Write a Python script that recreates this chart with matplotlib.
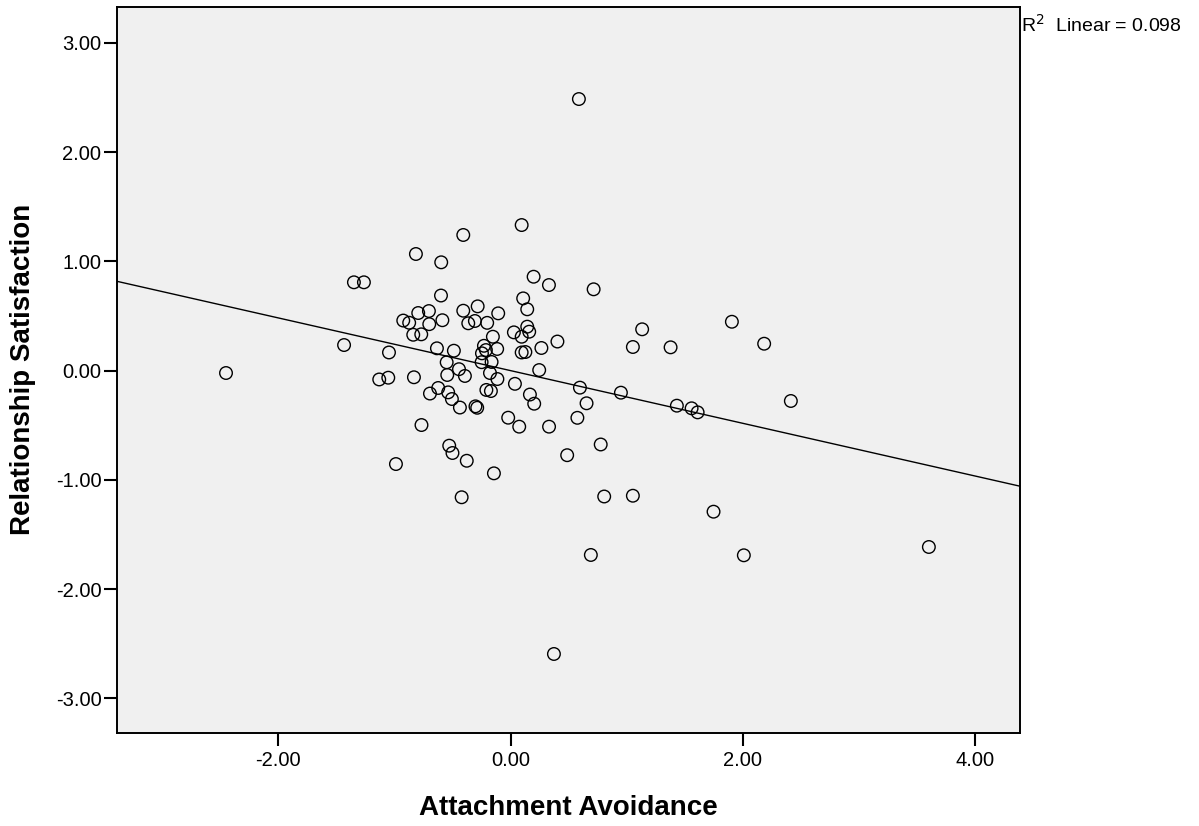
import matplotlib.pyplot as plt
import numpy as np

# points (attachment avoidance, relationship satisfaction)
avoidance = [
    -2.451, -1.434, -1.349, -1.263, -1.131, -1.053, -1.047, -0.987, -0.924, -0.873,
    -0.838, -0.832, -0.815, -0.795, -0.769, -0.767, -0.703, -0.700, -0.694, -0.634,
    -0.623, -0.597, -0.599, -0.587, -0.550, -0.545, -0.537, -0.505, -0.528, -0.500,
    -0.488, -0.444, -0.436, -0.421, -0.407, -0.407, -0.393, -0.377, -0.364, -0.307,
    -0.302, -0.287, -0.283, -0.246, -0.229, -0.249, -0.208, -0.201, -0.177, -0.169,
    -0.163, -0.152, -0.143, -0.115, -0.113, -0.106, -0.020, 0.029, 0.038, 0.075,
    0.096, 0.096, 0.096, 0.109, 0.128, 0.144, 0.144, 0.161, 0.167, 0.204,
    0.199, 0.247, 0.266, 0.331, 0.332, 0.374, 0.404, 0.488, 0.576, 0.589,
    0.598, 0.655, 0.692, 0.716, 0.777, 0.807, 0.951, 1.054, 1.054, 1.134,
    1.379, 1.433, 1.560, 1.612, 1.749, 1.907, 2.010, 2.185, 2.415, 3.604,
    -0.212,
]
satisfaction = [
    -0.022, 0.234, 0.808, 0.808, -0.081, -0.065, 0.166, -0.855, 0.458, 0.438,
    0.328, -0.061, 1.067, 0.527, 0.332, -0.498, 0.545, 0.425, -0.210, 0.204,
    -0.159, 0.991, 0.687, 0.461, 0.076, -0.040, -0.199, -0.260, -0.687, -0.754,
    0.182, 0.013, -0.338, -1.159, 1.241, 0.548, -0.049, -0.825, 0.433, 0.454,
    -0.327, -0.340, 0.588, 0.158, 0.227, 0.077, -0.177, 0.437, -0.022, -0.187,
    0.079, 0.310, -0.940, 0.198, -0.077, 0.524, -0.431, 0.350, -0.121, -0.513,
    1.332, 0.310, 0.166, 0.661, 0.170, 0.561, 0.402, 0.356, -0.219, -0.303,
    0.859, 0.005, 0.207, 0.783, -0.513, -2.593, 0.266, -0.774, -0.432, 2.485,
    -0.156, -0.299, -1.687, 0.744, -0.676, -1.152, -0.202, -1.145, 0.216, 0.378,
    0.213, -0.321, -0.345, -0.382, -1.291, 0.447, -1.690, 0.246, -0.278, -1.614,
    0.188,
]

# fitted line as drawn in the picture
fit_intercept = 0.0
fit_slope = -0.241
r2_text = "R$^2$  Linear = 0.098"

x_ticks = [-2.0, 0.0, 2.0, 4.0]
y_ticks = [-3.0, -2.0, -1.0, 0.0, 1.0, 2.0, 3.0]
x_lim = (-3.393, 4.389)
y_lim = (-3.313, 3.327)

plt.rcParams['font.family'] = ['Liberation Sans', 'DejaVu Sans']

fig = plt.figure(figsize=(11.99, 8.26), dpi=100)
ax = fig.add_axes([0.0973, 0.113, 0.7534, 0.8785])
ax.set_facecolor('#f0f0f0')

line_x = np.array(x_lim)
ax.plot(line_x, fit_intercept + fit_slope * line_x, color='black', lw=1.0, zorder=2)
ax.scatter(avoidance, satisfaction, s=82, facecolors='none', edgecolors='black',
           linewidths=1.0, zorder=3)

ax.set_xlim(*x_lim)
ax.set_ylim(*y_lim)
ax.set_xticks(x_ticks)
ax.set_yticks(y_ticks)
ax.set_xticklabels([f"{t:.2f}" for t in x_ticks])
ax.set_yticklabels([f"{t:.2f}" for t in y_ticks])
ax.tick_params(axis='both', direction='out', length=9.5, width=1.5, labelsize=14.5)
ax.tick_params(axis='x', pad=4)
ax.tick_params(axis='y', pad=1.5)
for side in ['left', 'right', 'top', 'bottom']:
    ax.spines[side].set_linewidth(1.4)

ax.set_xlabel("Attachment Avoidance", fontsize=20, fontweight='bold', labelpad=18)
ax.set_ylabel("Relationship Satisfaction", fontsize=20, fontweight='bold', labelpad=14)

fig.text(0.8515, 0.9705, r2_text, fontsize=14, ha='left', va='center')

fig.savefig("out.png", dpi=100)
